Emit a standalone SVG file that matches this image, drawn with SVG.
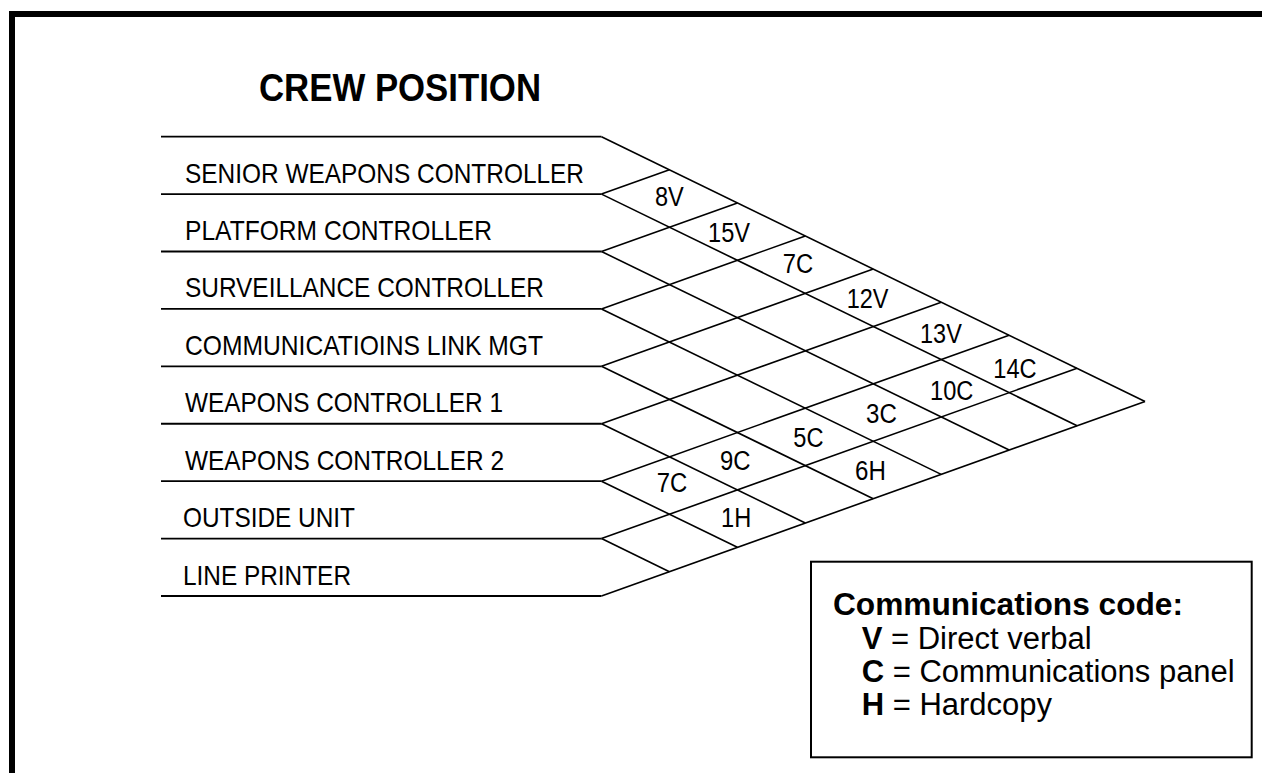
<svg xmlns="http://www.w3.org/2000/svg" width="1262" height="773" viewBox="0 0 1262 773">
  <style>
    .frame { fill: none; stroke: #000; stroke-width: 6; }
    .grid line { stroke: #000; stroke-width: 1.6; fill: none; }
    .grid .h { stroke-width: 1.8; }
    .lbl { font-family: "Liberation Sans", Arial, sans-serif; font-size: 28px; fill: #000; }
    .cell { font-family: "Liberation Sans", Arial, sans-serif; font-size: 27px; fill: #000; }
    .title { font-family: "Liberation Sans", Arial, sans-serif; font-size: 39px; font-weight: bold; fill: #000; }
    .leg { font-family: "Liberation Sans", Arial, sans-serif; font-size: 31px; fill: #000; }
    .legh { font-family: "Liberation Sans", Arial, sans-serif; font-size: 31.5px; font-weight: bold; fill: #000; }
    .b { font-weight: bold; }
    .legbox { fill: #fff; stroke: #000; stroke-width: 2; }
  </style>
  <rect width="1262" height="773" fill="#fff"/>
  <path class="frame" d="M12,773 V14 H1262"/>

  <text id="title" class="title" x="259" y="101" textLength="282" lengthAdjust="spacingAndGlyphs">CREW POSITION</text>

  <g id="connectors" class="grid">
    <line class="h" x1="161" y1="136.7" x2="601.5" y2="136.7"/>
    <line class="h" x1="161" y1="194.11" x2="601.5" y2="194.11"/>
    <line class="h" x1="161" y1="251.52" x2="601.5" y2="251.52"/>
    <line class="h" x1="161" y1="308.93" x2="601.5" y2="308.93"/>
    <line class="h" x1="161" y1="366.34" x2="601.5" y2="366.34"/>
    <line class="h" x1="161" y1="423.75" x2="601.5" y2="423.75"/>
    <line class="h" x1="161" y1="481.16" x2="601.5" y2="481.16"/>
    <line class="h" x1="161" y1="538.57" x2="601.5" y2="538.57"/>
    <line class="h" x1="161" y1="595.98" x2="601.5" y2="595.98"/>
    <line x1="601.5" y1="136.7" x2="1145.02" y2="401.42"/>
    <line x1="601.5" y1="194.11" x2="1077.08" y2="425.74"/>
    <line x1="601.5" y1="251.52" x2="1009.14" y2="450.06"/>
    <line x1="601.5" y1="308.93" x2="941.2" y2="474.38"/>
    <line x1="601.5" y1="366.34" x2="873.26" y2="498.7"/>
    <line x1="601.5" y1="423.75" x2="805.32" y2="523.02"/>
    <line x1="601.5" y1="481.16" x2="737.38" y2="547.34"/>
    <line x1="601.5" y1="538.57" x2="669.44" y2="571.66"/>
    <line x1="601.5" y1="194.11" x2="669.44" y2="169.79"/>
    <line x1="601.5" y1="251.52" x2="737.38" y2="202.88"/>
    <line x1="601.5" y1="308.93" x2="805.32" y2="235.97"/>
    <line x1="601.5" y1="366.34" x2="873.26" y2="269.06"/>
    <line x1="601.5" y1="423.75" x2="941.2" y2="302.15"/>
    <line x1="601.5" y1="481.16" x2="1009.14" y2="335.24"/>
    <line x1="601.5" y1="538.57" x2="1077.08" y2="368.33"/>
    <line x1="601.5" y1="595.98" x2="1145.02" y2="401.42"/>
  </g>

  <g id="row-swc"><text class="lbl" x="185" y="182.6" textLength="399" lengthAdjust="spacingAndGlyphs">SENIOR WEAPONS CONTROLLER</text></g>
  <g id="row-pc"><text class="lbl" x="185" y="240" textLength="307" lengthAdjust="spacingAndGlyphs">PLATFORM CONTROLLER</text></g>
  <g id="row-sc"><text class="lbl" x="185" y="297.4" textLength="359" lengthAdjust="spacingAndGlyphs">SURVEILLANCE CONTROLLER</text></g>
  <g id="row-clm"><text class="lbl" x="185" y="354.8" textLength="358" lengthAdjust="spacingAndGlyphs">COMMUNICATIOINS LINK MGT</text></g>
  <g id="row-wc1"><text class="lbl" x="185" y="412.3" textLength="318" lengthAdjust="spacingAndGlyphs">WEAPONS CONTROLLER 1</text></g>
  <g id="row-wc2"><text class="lbl" x="185" y="469.7" textLength="319" lengthAdjust="spacingAndGlyphs">WEAPONS CONTROLLER 2</text></g>
  <g id="row-ou"><text class="lbl" x="183" y="527.1" textLength="172" lengthAdjust="spacingAndGlyphs">OUTSIDE UNIT</text></g>
  <g id="row-lp"><text class="lbl" x="183" y="584.5" textLength="168" lengthAdjust="spacingAndGlyphs">LINE PRINTER</text></g>

  <g id="cells">
    <text class="cell" x="655" y="206" textLength="28.8" lengthAdjust="spacingAndGlyphs">8V</text>
    <text class="cell" x="708" y="241.7" textLength="42" lengthAdjust="spacingAndGlyphs">15V</text>
    <text class="cell" x="782.7" y="273.3" textLength="30.4" lengthAdjust="spacingAndGlyphs">7C</text>
    <text class="cell" x="846.7" y="308.3" textLength="41.8" lengthAdjust="spacingAndGlyphs">12V</text>
    <text class="cell" x="920" y="343.3" textLength="41.8" lengthAdjust="spacingAndGlyphs">13V</text>
    <text class="cell" x="993.3" y="378.3" textLength="43.3" lengthAdjust="spacingAndGlyphs">14C</text>
    <text class="cell" x="930" y="400" textLength="43.3" lengthAdjust="spacingAndGlyphs">10C</text>
    <text class="cell" x="866" y="423.3" textLength="30.8" lengthAdjust="spacingAndGlyphs">3C</text>
    <text class="cell" x="793.3" y="446.7" textLength="30.2" lengthAdjust="spacingAndGlyphs">5C</text>
    <text class="cell" x="720" y="470" textLength="30.5" lengthAdjust="spacingAndGlyphs">9C</text>
    <text class="cell" x="656.7" y="491.7" textLength="30.5" lengthAdjust="spacingAndGlyphs">7C</text>
    <text class="cell" x="855" y="480" textLength="30.8" lengthAdjust="spacingAndGlyphs">6H</text>
    <text class="cell" x="721" y="526.7" textLength="30.2" lengthAdjust="spacingAndGlyphs">1H</text>
  </g>

  <g id="legend">
    <rect class="legbox" x="811" y="561.7" width="440.7" height="195.6"/>
    <text class="legh" x="833" y="615" textLength="350" lengthAdjust="spacingAndGlyphs">Communications code:</text>
    <text class="leg" x="861.7" y="649"><tspan class="b">V</tspan> = Direct verbal</text>
    <text class="leg" x="861.7" y="682"><tspan class="b">C</tspan> = Communications panel</text>
    <text class="leg" x="861.7" y="715"><tspan class="b">H</tspan> = Hardcopy</text>
  </g>
</svg>
